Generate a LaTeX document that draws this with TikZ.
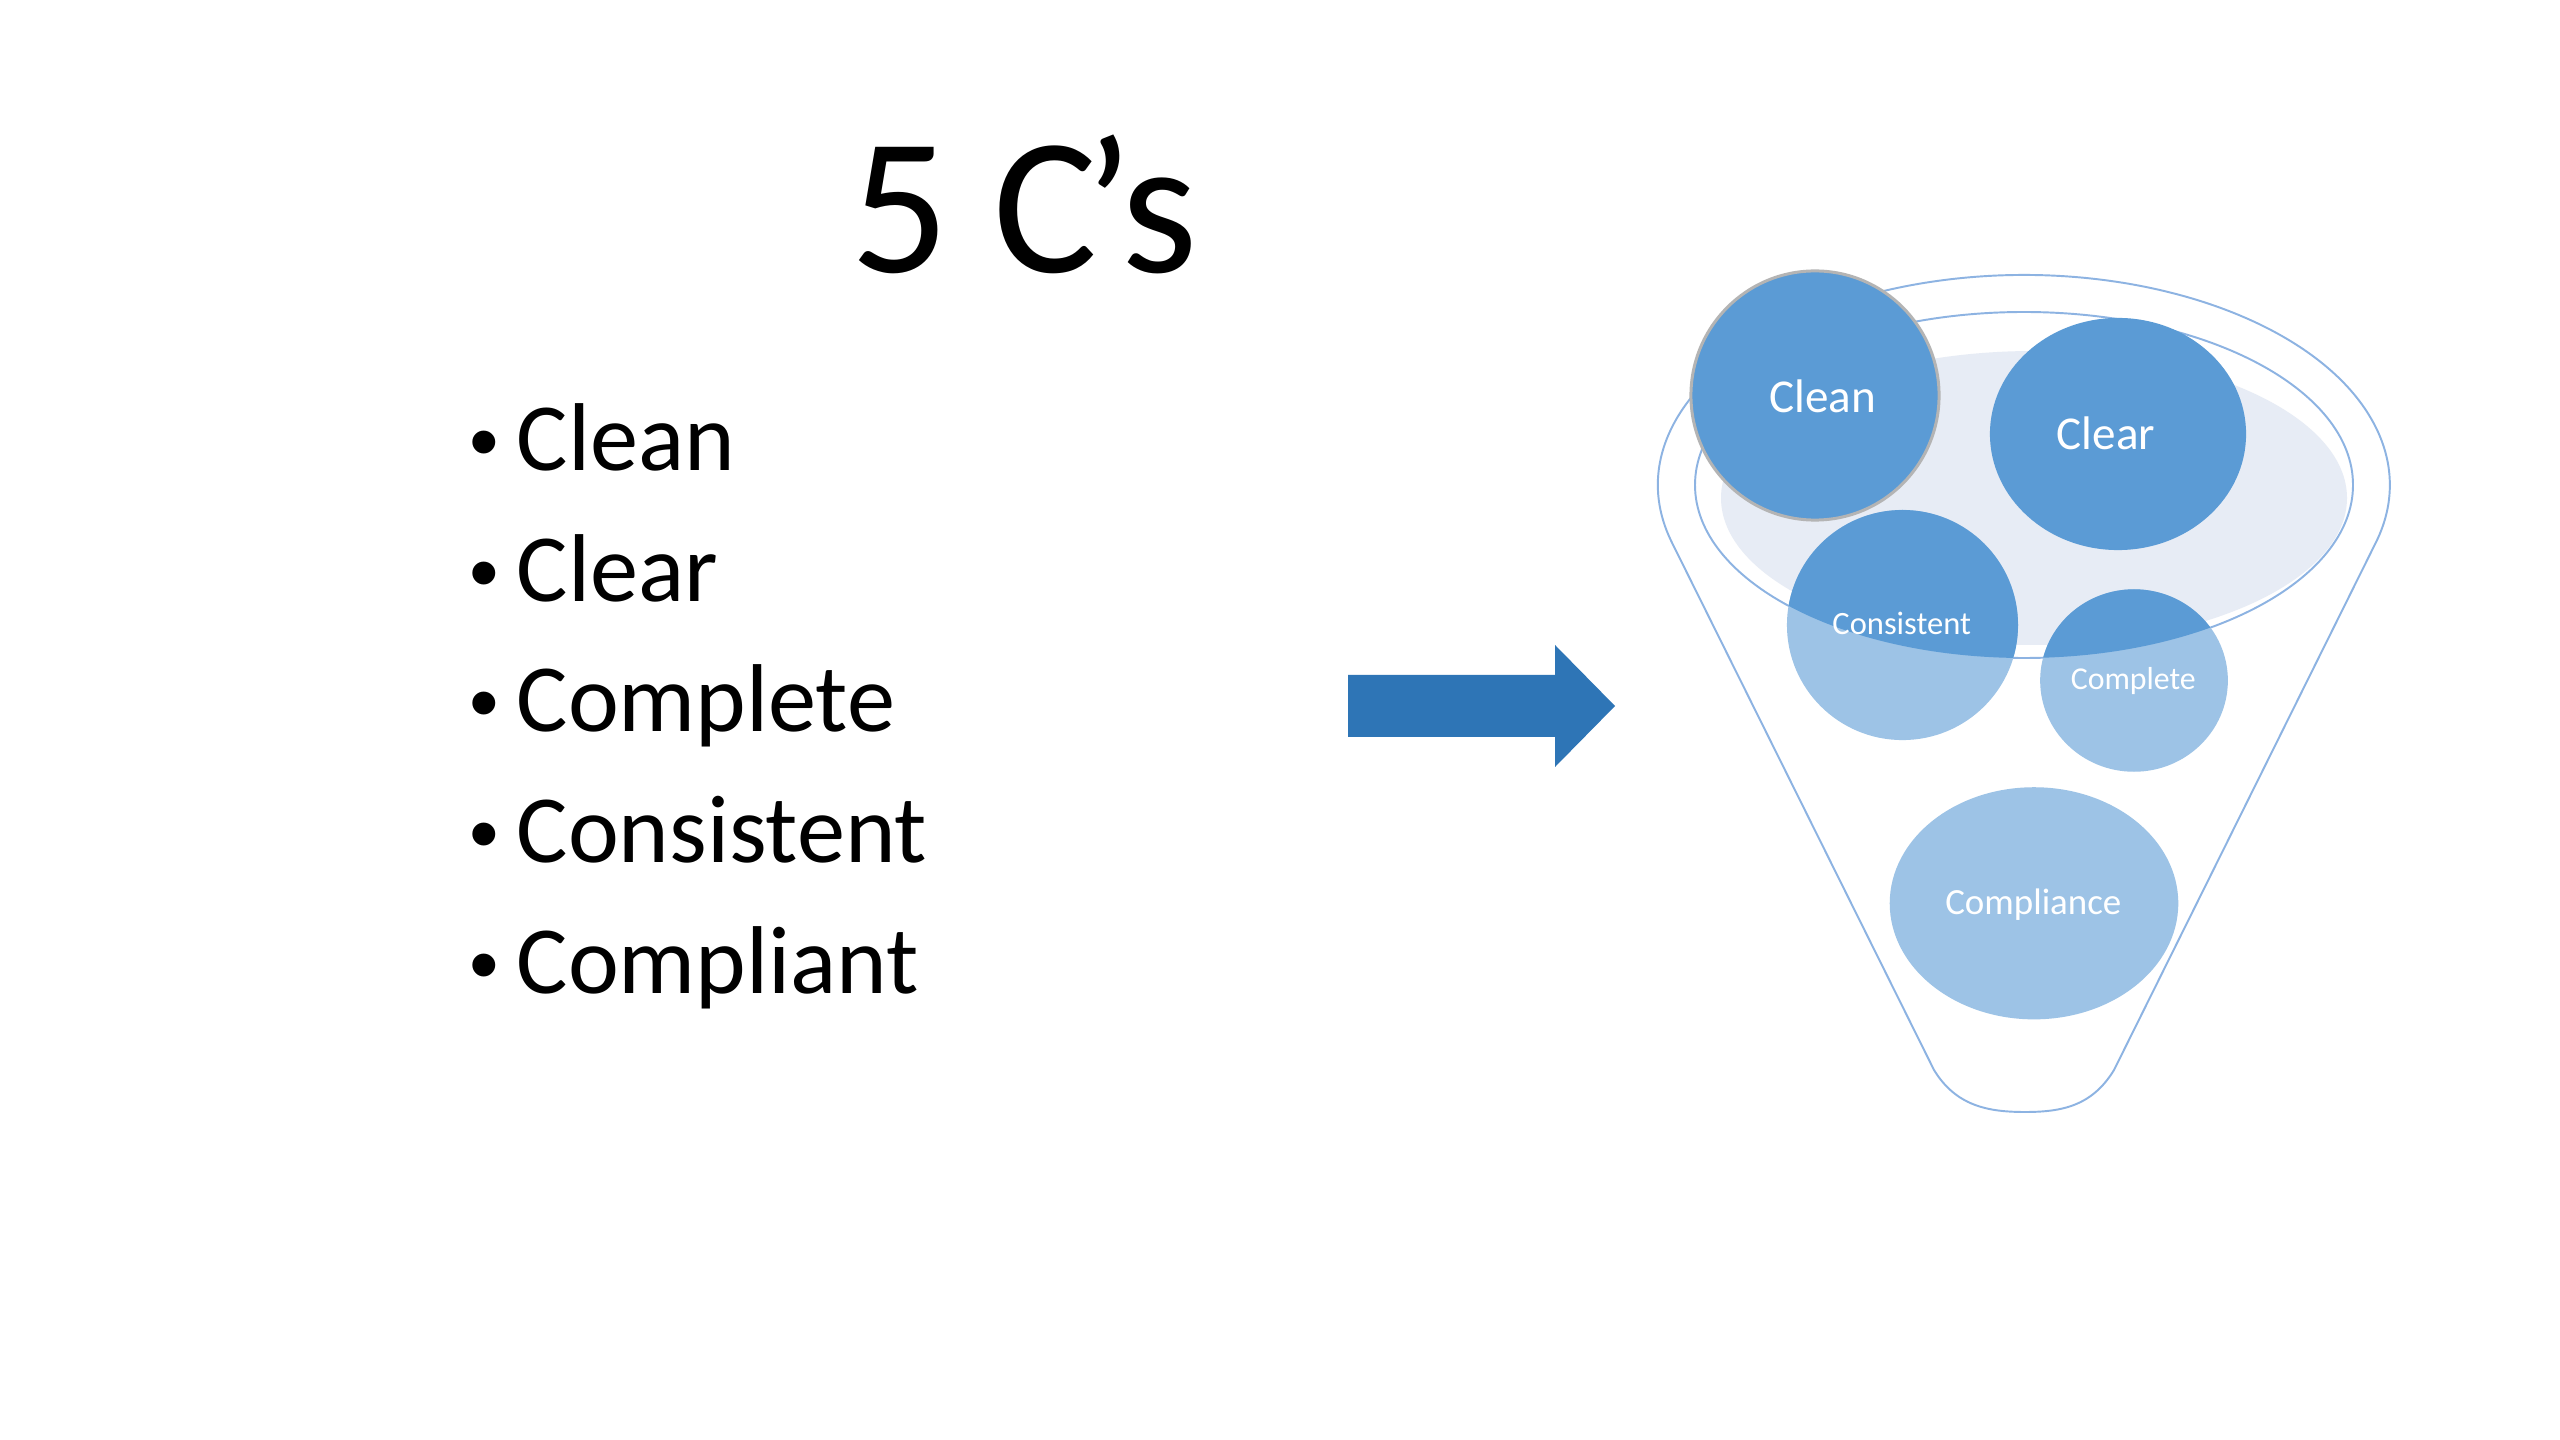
\documentclass[tikz,border=0pt]{standalone}
\usepackage{fontspec}
\setmainfont{Carlito}
\newfontfamily\bulletfont{Liberation Sans}
\usetikzlibrary{shapes.geometric}
\definecolor{darkc}{HTML}{5B9BD5}
\definecolor{lightc}{HTML}{9DC3E6}
\definecolor{liquid}{HTML}{E7ECF5}
\definecolor{rim}{HTML}{8DB3E2}
\definecolor{arrowc}{HTML}{2E75B6}
\definecolor{cleanedge}{HTML}{B4B4B4}
\begin{document}
\begin{tikzpicture}[x=0.01cm,y=0.01cm,
  rimline/.style={draw=rim, line width=0.55pt},
  ball/.style={ellipse, inner sep=0pt, draw=none},
  balltext/.style={text=white, anchor=base, inner sep=0pt},
  itemtext/.style={anchor=base west, inner sep=0pt, font=\fontsize{27.4}{30}\selectfont},
  itemdot/.style={anchor=base, inner sep=0pt, font=\bulletfont\fontsize{24}{26}\selectfont}]
\useasboundingbox (0,0) rectangle (2560,-1440);
\fill[white] (0,0) rectangle (2560,-1440);

% title
\node[anchor=base, inner sep=0pt, font=\fontsize{55.5}{60}\selectfont] (title) at (1024,-273) {5 C\kern-0.07em’s};

% bullet list
\node[itemdot] (d1) at (484,-470.7) {•};
\node[itemtext] (t1) at (516,-470.7) {Clean};
\node[itemdot] (d2) at (484,-601.3) {•};
\node[itemtext] (t2) at (516,-601.3) {Clear};
\node[itemdot] (d3) at (484,-732) {•};
\node[itemtext] (t3) at (516,-732) {Complete};
\node[itemdot] (d4) at (484,-862.7) {•};
\node[itemtext] (t4) at (516,-862.7) {Consistent};
\node[itemdot] (d5) at (484,-993.3) {•};
\node[itemtext] (t5) at (516,-993.3) {Compliant};

% arrow
\fill[arrowc] (1348,-675) -- (1555,-675) -- (1555,-645) -- (1615,-706) -- (1555,-767) -- (1555,-737) -- (1348,-737) -- cycle;

% funnel
\fill[liquid] (2034,-498) ellipse [x radius=313, y radius=147];
\draw[rimline] (1671.5,-541.7) arc[start angle=195.67, end angle=-15.67, x radius=366, y radius=210]
  -- (2114,-1070) .. controls (2092,-1106) and (2062,-1112) .. (2025,-1112)
  .. controls (1988,-1112) and (1956,-1106) .. (1934,-1070) -- cycle;
\draw[rimline] (2024,-485) ellipse [x radius=329, y radius=173];

% lower balls (light)
\node[ball, fill=lightc, minimum width=2.31cm, minimum height=2.30cm] (cons) at (1902.5,-625) {};
\node[ball, fill=lightc, minimum width=1.876cm, minimum height=1.824cm] (comp) at (2134,-680.5) {};
\node[ball, fill=lightc, minimum width=2.884cm, minimum height=2.32cm] (compl) at (2034,-903.3) {};

% dark part inside the rim
\begin{scope}
  \clip (2024,-485) ellipse [x radius=329, y radius=173];
  \fill[darkc] (cons.center) ellipse [x radius=115.5, y radius=115];
  \fill[darkc] (comp.center) ellipse [x radius=93.8, y radius=91.2];
\end{scope}

% upper balls (dark)
\node[ball, fill=darkc, minimum width=2.56cm, minimum height=2.32cm] (clear) at (2118,-434) {};
\node[ball, fill=darkc, draw=cleanedge, line width=0.85pt, minimum width=2.48cm, minimum height=2.49cm] (clean) at (1815,-395.5) {};

% ball labels
\node[balltext, font=\fontsize{13.4}{15}\selectfont] (lclean) at (1822.7,-412.3) {Clean};
\node[balltext, font=\fontsize{13.4}{15}\selectfont] (lclear) at (2106,-450) {Clear};
\node[balltext, font=\fontsize{9.25}{11}\selectfont] (lcons) at (1901.7,-635) {Consistent};
\node[balltext, font=\fontsize{9.05}{11}\selectfont] (lcomp) at (2133.3,-690) {Complete};
\node[balltext, font=\fontsize{10.5}{12}\selectfont] (lcompl) at (2033.3,-915) {Compliance};
\end{tikzpicture}
\end{document}
